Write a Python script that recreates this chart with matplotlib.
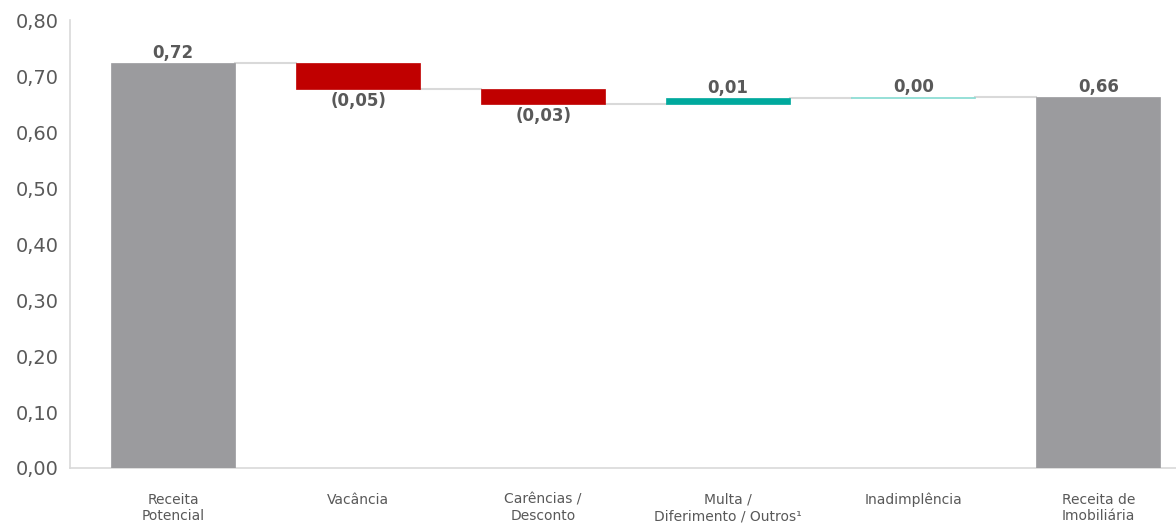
import numpy as np
import matplotlib.pyplot as plt

plt.rcParams['font.family'] = ['DejaVu Sans']

categorias = ['Receita\nPotencial', 'Vacância', 'Carências /\nDesconto',
              'Multa /\nDiferimento / Outros¹', 'Inadimplência', 'Receita de\nImobiliária']
variacoes = [0.723, -0.046, -0.027, 0.011, 0.001]
total_final = 0.662

cinza = '#9b9b9e'
vermelho = '#c00000'
verde = '#00a99d'
verde_claro = '#86dbd2'
texto = '#595959'

def fmt(v):
    s = f"{abs(v):.2f}".replace('.', ',')
    return f"({s})" if v < 0 else s

fig = plt.figure(figsize=(11.76, 5.30), dpi=100)
ax = fig.add_axes([0.0595, 0.117, 0.9405, 0.845])

x = np.arange(len(categorias))
w = 0.67

bases = []
alturas = []
cores = []
acum = 0
for i, v in enumerate(variacoes):
    if i == 0:
        bases.append(0)
        alturas.append(v)
        cores.append(cinza)
    else:
        bases.append(acum if v >= 0 else acum + v)
        alturas.append(abs(v))
        if v < 0:
            cores.append(vermelho)
        elif abs(v) < 0.005:
            cores.append(verde_claro)
        else:
            cores.append(verde)
    acum += v
bases.append(0)
alturas.append(total_final)
cores.append(cinza)

ax.bar(x, alturas, bottom=bases, width=w, color=cores, edgecolor=cores,
       linewidth=0.5, zorder=3)

# linhas de ligacao
niveis = np.cumsum(variacoes)
for i in range(len(categorias) - 1):
    ax.plot([x[i] + w / 2, x[i + 1] - w / 2], [niveis[i], niveis[i]],
            color='#d9d9d9', lw=1.5, zorder=2)

# rotulos
valores = list(variacoes) + [total_final]
for i, v in enumerate(valores):
    topo = bases[i] + alturas[i]
    if v >= 0:
        ax.text(x[i], topo + 0.002, fmt(v), ha='center', va='bottom',
                fontsize=12, fontweight='bold', color=texto)
    else:
        ax.text(x[i], bases[i] - 0.006, fmt(v), ha='center', va='top',
                fontsize=12, fontweight='bold', color=texto)

ax.set_ylim(0, 0.8)
ax.set_xlim(-0.557, 5.42)
yt = np.arange(0, 0.81, 0.1)
ax.set_yticks(yt)
ax.set_yticklabels([f"{t:.2f}".replace('.', ',') for t in yt], fontsize=14, color=texto)
ax.set_xticks(x)
ax.set_xticklabels(categorias, fontsize=10, color=texto)
ax.tick_params(axis='both', length=0)
ax.tick_params(axis='x', pad=18)
ax.tick_params(axis='y', pad=8)

for s in ['top', 'right']:
    ax.spines[s].set_visible(False)
ax.spines['left'].set_color('#d9d9d9')
ax.spines['bottom'].set_color('#d9d9d9')
ax.spines['left'].set_linewidth(1.2)
ax.spines['bottom'].set_linewidth(1.2)

fig.savefig('out.png', dpi=100)
